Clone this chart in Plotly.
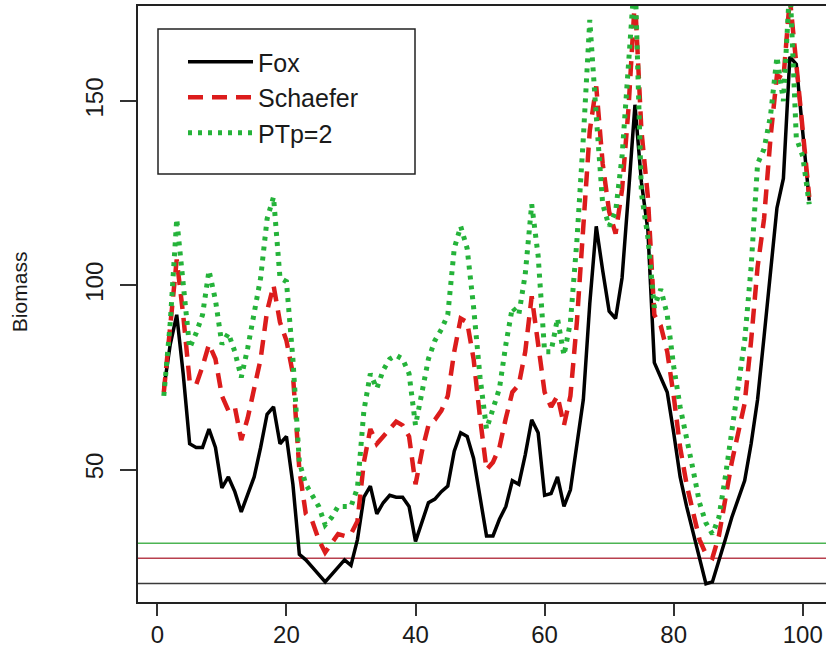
import plotly.graph_objects as go

years = list(range(1, 102))

fox = [72, 84, 92, 76, 57, 56, 56, 61, 56, 45,
       48, 44, 38.5, 43, 48, 56, 65, 67, 57, 59,
       46, 27, 25.5, 23.5, 21.5, 19.5, 21.5, 23.5, 25.5, 24,
       31, 42.5, 45.5, 38, 41, 43, 42.5, 42.5, 40, 30.5,
       36, 41, 42, 44, 45.5, 55, 60, 59, 53, 42,
       32, 32, 36.5, 40, 47, 46, 54, 63.5, 60, 43,
       43.5, 48, 40, 44.5, 56, 69, 95, 116, 104, 93,
       91, 102, 125, 149, 128, 115, 79, 75, 71, 60,
       48, 40, 33, 26, 19, 19.5, 25, 31, 37, 42,
       47, 57, 69, 86, 104, 121, 129, 162, 160, 142,
       123]

schaefer = [71, 90, 107, 92, 74, 73, 78, 84, 80, 70,
            66, 67, 58, 64, 72, 80, 93, 100, 90, 85,
            76, 50, 38, 36, 31, 27.5, 30, 32.5, 32, 32.5,
            36, 52, 61, 57, 59, 61, 63, 62, 59, 46,
            55, 62, 63.5, 66, 70, 82, 91, 90, 80, 64,
            50, 52, 56, 64, 71, 73, 82, 97, 85, 71,
            67, 70, 62, 70, 90, 118, 142, 154, 133, 120,
            114, 126, 148, 178, 142, 124, 92, 89, 82, 70,
            56, 46, 39, 31, 27, 26, 32, 42, 52, 60,
            68, 85, 105, 118, 140, 157, 156, 178, 160, 140,
            124]

ptp2 = [70, 90, 118, 100, 83, 87, 92, 104, 96, 84,
        87, 82, 75, 83, 92, 102, 118, 124, 102, 101,
        80, 52, 46, 43, 40, 35, 37, 40, 40, 40,
        45, 66, 76, 72, 77, 80, 81, 80, 76, 62,
        71, 80, 85, 88, 92, 110, 116, 110, 94, 75,
        61, 66, 72, 84, 94, 92, 103, 122, 108, 82,
        82, 91, 81, 90, 112, 140, 172, 146, 122, 116,
        120, 135, 157, 185, 125, 113, 94, 99, 92, 78,
        67, 59, 50, 41, 35.5, 32.5, 37, 48, 60, 72,
        85, 105, 133, 137, 146, 162, 150, 182, 140, 135,
        122]

names = ["Fox", "Schaefer", "PTp=2"]
thresholds = [19.1, 25.9, 30.0]
y_title = "Biomass"

x_ticks = [0, 20, 40, 60, 80, 100]
y_ticks = [50, 100, 150]

FONT = "Arial, 'Liberation Sans', sans-serif"
INK = "#1a1a1a"

fig = go.Figure()
fig.add_trace(go.Scatter(x=years, y=fox, mode="lines", name=names[0],
                         legendgroup="a",
                         line=dict(color="#000000", width=3.5)))
fig.add_trace(go.Scatter(x=years, y=schaefer, mode="lines", name=names[1],
                         legendgroup="b",
                         line=dict(color="#dc1c1c", width=4.5, dash="15px,9px")))
fig.add_trace(go.Scatter(x=years, y=ptp2, mode="lines", name=names[2],
                         legendgroup="c",
                         line=dict(color="#25b33a", width=5, dash="4px,6px")))

for val, col in zip(thresholds, ["#3a3a3a", "#b8404e", "#4cb453"]):
    fig.add_hline(y=val, line=dict(color=col, width=1.5), layer="below")

# plot-area geometry in pixels
L, R_, T, B = 138, 826, 6, 601.7
W, H = R_ - L, B - T
def px(x):
    return (x - L) / W
def py(y):
    return (B - y) / H

# legend frame
fig.add_shape(type="rect", xref="paper", yref="paper",
              x0=px(158), x1=px(415), y0=py(174), y1=py(29),
              line=dict(color="#222222", width=1.5), fillcolor="white", layer="above")

# y-axis title
fig.add_annotation(text=y_title, xref="paper", yref="paper",
                   x=px(19), y=py(292), xanchor="center", yanchor="middle",
                   textangle=-90, showarrow=False,
                   font=dict(size=21, family=FONT, color=INK))

fig.update_layout(
    width=826, height=669,
    margin=dict(l=L, r=0, t=T, b=669 - B),
    plot_bgcolor="white", paper_bgcolor="white",
    font=dict(family=FONT, color=INK, size=24),
    showlegend=True,
    legend=dict(x=px(183), y=py(39), xanchor="left", yanchor="top",
                bgcolor="rgba(0,0,0,0)", borderwidth=0,
                font=dict(family=FONT, size=25, color=INK),
                tracegroupgap=0, itemwidth=65),
    xaxis=dict(range=[-3, 103.6], tickvals=x_ticks, ticks="outside", ticklen=12,
               tickwidth=1.5, tickcolor="#333333", ticklabelstandoff=-2,
               showline=True, linecolor="#222222", linewidth=1.5, mirror=True,
               showgrid=False, zeroline=False,
               tickfont=dict(size=24, family=FONT, color=INK)),
    yaxis=dict(range=[14.06, 175.8], tickvals=y_ticks, ticks="outside", ticklen=16,
               tickwidth=1.5, tickcolor="#333333", tickangle=-90,
               ticklabelstandoff=8,
               showline=True, linecolor="#222222", linewidth=1.5, mirror=False,
               showgrid=False, zeroline=False,
               tickfont=dict(size=24, family=FONT, color=INK)),
)

fig.write_html("out.html")
